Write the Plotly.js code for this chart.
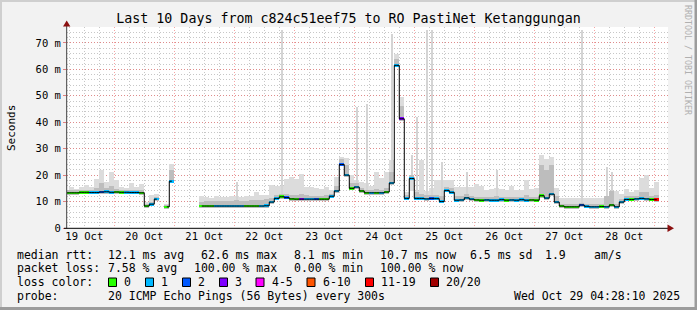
<!DOCTYPE html>
<html>
<head>
<meta charset="utf-8">
<script src="https://cdn.plot.ly/plotly-3.0.1.min.js"></script>
<style>
html,body{margin:0;padding:0;background:#f2f2f2;}
#chart{width:697px;height:310px;}
</style>
</head>
<body>
<div id="chart"></div>
<script>
// ---- data (2-hour steps starting 2025-10-19 05:00) ----
const median = [
 13.3,13.3,13.3,13.5,13.5, 13.4,13.4,13.6,13.7,13.5,
 13.6,13.5,13.5,13.4,13.4, 13.3,8.3,9.0,10.9,null,
 8.0,17.7,null,null,null, null,null,8.3,8.3,8.3,
 8.3,8.3,8.3,8.3,8.3, 8.3,8.3,8.3,8.3,8.3,
 8.4,9.8,11.2,11.8,11.5, 11.0,10.9,10.9,10.9,10.9,
 10.9,10.9,10.9,12.0,14.0, 24.0,20.0,15.0,15.5,14.0,
 13.3,13.3,13.3,13.3,13.6, 17.0,61.5,41.3,11.2,18.7,
 11.2,11.2,11.0,11.2,11.1, 10.0,14.2,13.5,10.5,10.6,
 11.4,10.9,10.6,10.5,10.6, 10.5,10.5,10.7,10.5,10.6,
 10.5,10.7,10.5,10.6,10.5, 12.2,11.3,12.8,9.8,8.3,
 8.0,8.0,8.0,8.7,8.2, 8.0,8.0,8.1,8.0,8.7,
 8.0,9.8,10.8,10.8,11.0, 11.2,11.0,10.8,10.7,null
];
const lossCount = [
 0,0,0,0,0, 1,1,2,1,1,
 0,0,1,1,1, 0,0,1,1,0,
 0,1,0,0,0, 0,0,0,0,0,
 1,1,1,1,1, 1,0,0,0,1,
 1,1,1,0,2, 0,0,3,1,1,
 2,0,0,1,1, 2,1,0,1,0,
 0,1,0,1,0, 1,1,3,1,1,
 1,1,1,2,1, 1,1,1,1,1,
 1,1,0,0,1, 1,1,1,0,1,
 1,1,1,0,0, 0,1,1,1,0,
 0,0,0,2,1, 1,1,0,1,0,
 1,1,1,0,1, 1,1,0,15,0
];
const smokeMax = [
 14.5,15.5,14.8,15.5,16.2, 15.5,18.7,22.0,17.5,21.2,
 18.0,15.5,15.2,17.2,15.5, 16.8,10.0,12.4,13.0,null,
 9.0,24.3,null,null,null, null,null,12.0,11.8,11.5,
 12.0,11.6,11.8,12.0,12.0, 11.8,12.0,12.2,13.7,12.4,
 12.6,16.2,16.0,16.0,18.7, 19.3,18.7,20.6,15.5,15.5,
 15.0,14.8,15.5,14.3,19.3, 26.8,26.5,20.0,18.0,17.5,
 17.0,16.0,21.2,18.8,21.0, 25.6,65.7,49.4,13.5,14.0,
 14.0,25.6,14.0,15.0,18.0, 18.0,18.0,18.0,15.5,15.5,
 15.5,15.5,16.5,15.9,14.5, 14.9,15.0,14.9,14.5,15.9,
 14.5,14.5,18.0,14.8,15.0, 27.5,26.0,27.0,15.0,11.5,
 11.5,11.2,11.5,11.5,11.2, 11.2,11.2,11.5,12.0,12.0,
 14.0,13.0,14.9,13.5,14.5, 19.0,20.0,15.0,17.4,null
];
const smokeMid = [
 14.2,14.2,14.2,14.3,14.4, 14.3,15.0,17.0,15.0,16.0,
 14.6,14.4,14.3,14.3,14.2, 14.2,9.2,10.0,11.8,null,
 8.6,22.0,null,null,null, null,null,10.0,10.2,10.3,
 10.3,10.2,10.3,10.2,10.4, 10.2,10.3,10.5,10.6,10.5,
 10.8,11.5,12.5,13.0,13.0, 12.5,12.6,12.8,12.3,12.2,
 12.0,12.2,12.3,13.0,16.0, 26.0,24.0,17.0,17.0,15.0,
 14.5,14.4,14.6,14.5,15.0, 21.0,64.0,46.0,12.5,20.0,
 13.5,12.8,12.5,12.6,12.4, 12.0,15.5,15.0,12.0,12.0,
 12.8,12.0,11.8,11.8,11.7, 11.8,12.2,11.8,11.8,11.9,
 11.7,11.8,12.3,11.8,11.8, 24.0,22.0,24.0,12.0,9.2,
 9.0,9.0,9.0,9.5,9.0, 9.0,9.0,9.1,12.0,14.0,
 9.0,11.0,12.0,12.0,12.2, 13.5,13.5,12.0,12.5,null
];
const spikeMax = [
 null,null,null,null,null, null,null,null,null,null,
 null,null,null,null,null, null,null,null,null,null,
 null,null,null,null,null, null,null,null,null,null,
 null,null,null,null,17.4, null,null,null,null,null,
 null,null,null,75.0,null, null,null,null,null,null,
 null,null,null,null,null, null,null,null,45.7,null,
 46.9,null,null,null,null, 73.3,null,null,null,27.5,
 41.9,null,75.0,75.0,null, 25.0,null,null,null,null,
 21.2,null,null,null,null, null,21.8,null,null,null,
 null,null,null,null,null, null,null,null,null,null,
 null,null,null,75.0,null, null,null,null,23.0,21.0,
 null,null,null,null,null, null,null,null,null,null
];
const lossLabels = ['0','1','2','3','4-5','6-10','11-19','20/20'];
const lossColors = ['#26ff00','#00b8ff','#0059ff','#7e00ff','#ff00ff','#ff5500','#ff0000','#a10000'];
const yTickVals = [0,10,20,30,40,50,60,70];
const yTickText = ['0','10 m','20 m','30 m','40 m','50 m','60 m','70 m'];
const titleText = 'Last 10 Days from c824c51eef75 to RO PastiNet Ketanggungan';
const rttRow = ['median rtt:','12.1 ms avg','62.6 ms max','8.1 ms min','10.7 ms now','6.5 ms sd','1.9','am/s'];
const lossRow = ['packet loss:','7.58 % avg','100.00 % max','0.00 % min','100.00 % now'];
const probeRow = ['probe:','20 ICMP Echo Pings (56 Bytes) every 300s','Wed Oct 29 04:28:10 2025'];
const lossColorLabel = 'loss color:';

// ---- build ----
const STEP = 7200000;
const t0 = Date.UTC(2025,9,19,5,0,0);
function fmt(ms){return new Date(ms).toISOString().slice(0,19).replace('T',' ');}
const times = median.map((_,i)=>fmt(t0+i*STEP));

function lossColor(n){
  if(n===0) return lossColors[0];
  if(n===1) return lossColors[1];
  if(n===2) return lossColors[2];
  if(n===3) return lossColors[3];
  if(n<=5) return lossColors[4];
  if(n<=10) return lossColors[5];
  if(n<=19) return lossColors[6];
  return lossColors[7];
}
const smokeBase = median.map(m=>m==null?null:m-0.7);
const medBase = median.map(m=>m==null?null:m-0.5);

const traces = [
  {type:'bar', x:times, base:smokeBase, y:smokeMax.map((v,i)=>v==null||median[i]==null?null:v-smokeBase[i]),
   width:STEP, marker:{color:'#dcdcdc', line:{width:0}}, hoverinfo:'skip'},
  {type:'bar', x:times, base:median.map((m,i)=>spikeMax[i]==null?null:m), y:spikeMax.map((v,i)=>v==null?null:v-median[i]),
   width:STEP*0.45, marker:{color:'#d4d4d4', line:{width:0}}, hoverinfo:'skip'},
  {type:'bar', x:times, base:smokeBase, y:smokeMid.map((v,i)=>v==null||median[i]==null?null:v-smokeBase[i]),
   width:STEP, marker:{color:'#bdbdbd', line:{width:0}}, hoverinfo:'skip'},
  {type:'scatter', mode:'lines', x:times, y:median, line:{shape:'hvh', color:'#000', width:1}, connectgaps:false, hoverinfo:'skip'},
  {type:'bar', x:times, base:medBase, y:median.map(m=>m==null?null:1.0),
   width:STEP, marker:{color:lossCount.map(lossColor), line:{width:0}}, hoverinfo:'skip'}
];

const L=67, R=668, T=27, B=228;
const X = px => (px-L)/(R-L);
const Y = py => (B-py)/(B-T);
const mono = 'DejaVu Sans Mono';

const annotations = [];
function txt(s, px, py, size, extra){
  annotations.push(Object.assign({text:s, xref:'paper', yref:'paper', x:X(px), y:Y(py),
    xanchor:'left', yanchor:'middle', showarrow:false, borderpad:0,
    font:{family:mono, size:size||11.5, color:'#000'}}, extra||{}));
}
const rttX = [16,107.3,200,293.3,379.3,469,544,593.3];
rttRow.forEach((s,i)=>txt(s, rttX[i], 254.7));
const lossX = [16,107.3,193.3,293.3,379.3];
lossRow.forEach((s,i)=>txt(s, lossX[i], 268));
txt(lossColorLabel, 16, 282.3);
const boxX = [108.5,145.5,182.5,219.5,256,307,365.5,430.5];
const shapes = [];
lossLabels.forEach((s,i)=>{
  shapes.push({type:'rect', xref:'paper', yref:'paper', x0:X(boxX[i]), x1:X(boxX[i]+8), y0:Y(278), y1:Y(286.5),
    fillcolor:lossColors[i], line:{color:'#000', width:1}});
  txt(s, boxX[i]+14.8, 282.3);
});
const probeX = [16,107.3,513.3];
probeRow.forEach((s,i)=>txt(s, probeX[i], 296));
// y axis title
annotations.push({text:'Seconds', xref:'paper', yref:'paper', x:X(11), y:Y(128), textangle:-90,
  xanchor:'center', yanchor:'middle', showarrow:false, font:{family:mono, size:11, color:'#000'}});
// rrdtool credit
annotations.push({text:'RRDTOOL / TOBI OETIKER', xref:'paper', yref:'paper', x:X(688), y:Y(60), textangle:90,
  xanchor:'center', yanchor:'middle', showarrow:false, font:{family:mono, size:8.3, color:'#b0b0b0'}});

// frame
function rectPx(x0,y0,x1,y1,c){shapes.push({type:'rect', xref:'paper', yref:'paper', x0:X(x0), x1:X(x1), y0:Y(y0), y1:Y(y1), fillcolor:c, line:{width:0}, layer:'above'});}
rectPx(0,0,697,2,'#cfcfcf');
rectPx(0,0,2,310,'#cfcfcf');
rectPx(694.5,0,697,310,'#9c9c9c');
rectPx(0,307,697,310,'#9c9c9c');
// axes lines & arrows
shapes.push({type:'line', xref:'paper', yref:'paper', x0:X(66.7), x1:X(66.7), y0:Y(228.5), y1:Y(25), line:{color:'#404040', width:1}, layer:'above'});
shapes.push({type:'line', xref:'paper', yref:'paper', x0:X(64), x1:X(669), y0:Y(228.3), y1:Y(228.3), line:{color:'#000', width:1}, layer:'above'});
function path(pts){return 'M'+pts.map(p=>X(p[0])+','+Y(p[1])).join(' L')+' Z';}
shapes.push({type:'path', xref:'paper', yref:'paper', path:path([[66.7,20.5],[63,26.5],[70.4,26.5]]), fillcolor:'#8b1010', line:{width:0}, layer:'above'});
shapes.push({type:'path', xref:'paper', yref:'paper', path:path([[674,228.3],[667.5,224.5],[667.5,232]]), fillcolor:'#8b1010', line:{width:0}, layer:'above'});

const layout = {
  width:697, height:310,
  margin:{l:L, r:697-R, t:T, b:310-B, pad:0},
  paper_bgcolor:'#f2f2f2', plot_bgcolor:'#ffffff',
  showlegend:false, barmode:'overlay', bargap:0, hovermode:false,
  title:{text:titleText, xref:'container', x:0.5, xanchor:'center', y:1-18/310, yanchor:'middle',
    font:{family:mono, size:13.3, color:'#000'}},
  xaxis:{type:'date', range:['2025-10-19 05:05:00','2025-10-29 05:29:00'],
    tick0:'2025-10-19 00:00:00', dtick:86400000, ticklabelmode:'period', tickformat:'%d %b',
    showgrid:true, gridcolor:'rgba(240,90,90,0.55)', griddash:'1px,2px', gridwidth:1,
    minor:{dtick:6*3600000, showgrid:true, gridcolor:'rgba(0,0,0,0.22)', griddash:'1px,2px', gridwidth:1},
    ticks:'', showline:false, zeroline:false,
    tickfont:{family:mono, size:10.5, color:'#000'}, fixedrange:true},
  yaxis:{range:[0,76], tickvals:yTickVals, ticktext:yTickText,
    showgrid:true, gridcolor:'rgba(240,90,90,0.55)', griddash:'1px,2px', gridwidth:1,
    minor:{dtick:2, showgrid:true, gridcolor:'rgba(0,0,0,0.22)', griddash:'1px,2px', gridwidth:1},
    ticks:'outside', ticklen:3, tickcolor:'#e08080', showline:false, zeroline:false,
    tickfont:{family:mono, size:10.5, color:'#000'}, fixedrange:true},
  annotations:annotations, shapes:shapes
};
Plotly.newPlot('chart', traces, layout, {displayModeBar:false, staticPlot:true});
</script>
</body>
</html>
